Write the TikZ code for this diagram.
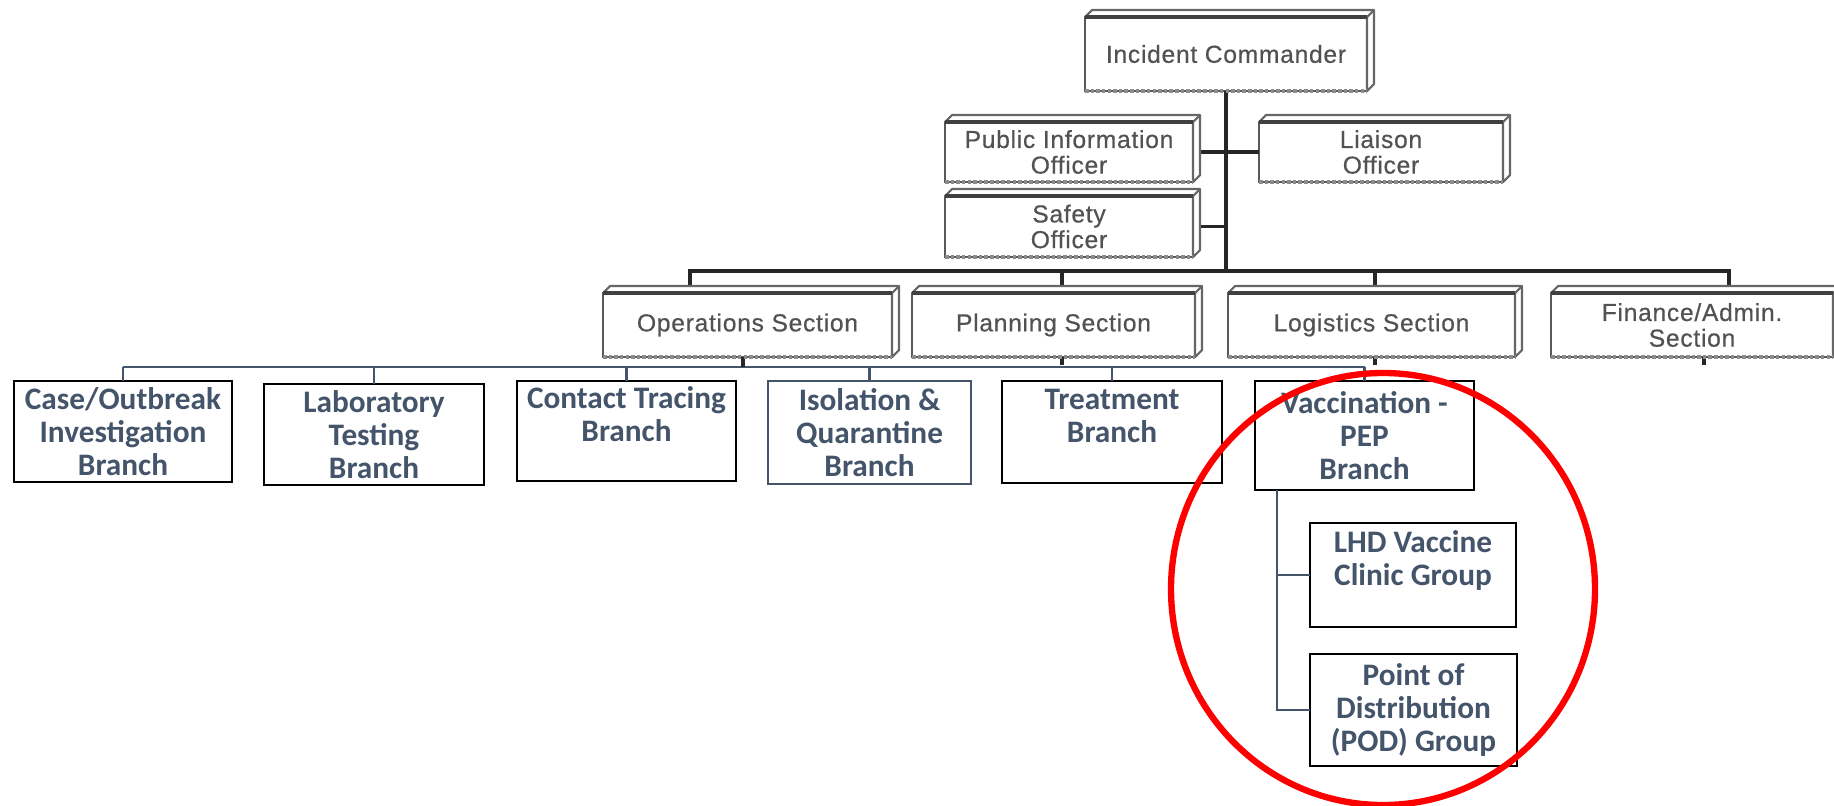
\documentclass[tikz,border=0pt]{standalone}
\usepackage{fontspec}
\newfontfamily\icsfont[LetterSpace=3,FakeBold=0.5]{Liberation Sans}
\newfontfamily\branchfont{Carlito}
\usepackage{tikz}
\definecolor{slate}{HTML}{44546A}
\tikzstyle{icsbox} = [draw=black!65, fill=white, line width=0.7pt, inner sep=0pt, outer sep=0pt, text centered, align=center, text=black!68, font=\icsfont\fontsize{7}{7.3}\selectfont]
\tikzstyle{branchbox} = [draw=black, fill=white, line width=0.8pt, inner sep=0pt, outer sep=0pt, text centered, align=center, text=slate, font=\branchfont\bfseries\fontsize{8.9}{9.4}\selectfont]
\tikzstyle{face} = [draw=black!60, fill=white, line width=0.6pt, line join=round]
\tikzstyle{trunk} = [line width=0.9pt, black!85]
\tikzstyle{navy} = [line width=0.6pt, slate]
\tikzstyle{ring} = [draw=red, line width=1.8pt]

\begin{document}
\begin{tikzpicture}
        \useasboundingbox (0,0) rectangle (18.34,-8.06);

        %command and staff
        \node at (12.26,-0.54) [icsbox, minimum width=2.82cm, minimum height=0.74cm] (ic) {Incident Commander};
        \node at (10.69,-1.52) [icsbox, minimum width=2.48cm, minimum height=0.60cm] (pio) {Public Information\\Officer};
        \node at (13.81,-1.52) [icsbox, minimum width=2.44cm, minimum height=0.60cm] (liaison) {Liaison\\Officer};
        \node at (10.69,-2.265) [icsbox, minimum width=2.48cm, minimum height=0.61cm] (safety) {Safety\\Officer};

        %sections
        \node at (7.475,-3.25) [icsbox, minimum width=2.89cm, minimum height=0.64cm] (ops) {Operations Section};
        \node at (10.535,-3.25) [icsbox, minimum width=2.83cm, minimum height=0.64cm] (plan) {Planning Section};
        \node at (13.715,-3.25) [icsbox, minimum width=2.87cm, minimum height=0.64cm] (logi) {Logistics Section};
        \node at (16.92,-3.25) [icsbox, minimum width=2.82cm, minimum height=0.64cm] (fin) {Finance/Admin.\\Section};

        %branches
        \node at (1.23,-4.315) [branchbox, minimum width=2.18cm, minimum height=1.01cm] (case) {Case/Outbreak\\Investigation\\Branch};
        \node at (3.74,-4.345) [branchbox, minimum width=2.20cm, minimum height=1.01cm] (lab) {Laboratory\\Testing\\Branch};
        \node at (6.265,-4.31) [branchbox, minimum width=2.19cm, minimum height=1.00cm] (contact) {Contact Tracing\\Branch\\~};
        \node at (8.695,-4.325) [branchbox, draw=slate, line width=0.6pt, minimum width=2.03cm, minimum height=1.03cm] (iso) {Isolation \&\\Quarantine\\Branch};
        \node at (11.12,-4.32) [branchbox, minimum width=2.20cm, minimum height=1.02cm] (treat) {Treatment\\Branch\\~};
        \node at (13.645,-4.355) [branchbox, minimum width=2.19cm, minimum height=1.09cm] (vacc) {Vaccination -\\PEP\\Branch};

        %groups
        \node at (14.13,-5.75) [branchbox, minimum width=2.06cm, minimum height=1.04cm] (lhd) {LHD Vaccine\\Clinic Group\\~};
        \node at (14.135,-7.10) [branchbox, minimum width=2.07cm, minimum height=1.12cm] (pod) {Point of\\Distribution\\(POD) Group};

        %black lines
        \coordinate (bar) at (12.26,-2.71);
        \draw [trunk] (ic.south) -- (bar);
        \draw [trunk] (pio.east) -- (liaison.west);
        \draw [trunk] (safety.east) -- (safety.east -| bar);
        \draw [trunk] ([xshift=-0.575cm]ops.north) -- ++(0,0.22) -| ([xshift=0.37cm]fin.north);
        \draw [trunk] ([xshift=0.085cm]plan.north) -- ++(0,0.22);
        \draw [trunk] ([xshift=0.035cm]logi.north) -- ++(0,0.22);
        \draw [trunk] ([xshift=0.085cm]plan.south) -- ++(0,-0.08);
        \draw [trunk] ([xshift=0.035cm]logi.south) -- ++(0,-0.08);
        \draw [trunk] ([xshift=0.12cm]fin.south) -- ++(0,-0.08);

        %branch lines
        \coordinate (bb) at (7.43,-3.67);
        \draw [navy] (case.north |- bb) -- (vacc.north |- bb);
        \foreach \b in {case,lab,contact,iso,treat,vacc}
            \draw [navy] (\b.north) -- (\b.north |- bb);
        \draw [trunk] (ops.south -| bb) -- (bb);
        \coordinate (vs) at ([xshift=-0.875cm]vacc.south);
        \draw [navy] (vs) |- (pod.west);
        \draw [navy] (lhd.west) -- (lhd.west -| vs);

        %3d faces
        \foreach \n in {ic,pio,liaison,safety,ops,plan,logi,fin}{
            \draw [face] (\n.north west) -- ++(0.07,0.07) -- ([shift={(0.07,0.07)}]\n.north east) -- ([shift={(0.07,0.07)}]\n.south east) -- (\n.south east) -- (\n.north east) -- cycle;
            \draw [face] (\n.north east) -- ++(0.07,0.07);
            \draw [line width=1.2pt, black!75] (\n.north west) -- (\n.north east);
            \draw [line width=1pt, black!45, dash pattern=on 1pt off 0.6pt] (\n.south west) -- (\n.south east);
        }

        %highlight
        \draw [ring] (13.83,-5.89) ellipse [x radius=2.12, y radius=2.16];

\end{tikzpicture}
\end{document}
